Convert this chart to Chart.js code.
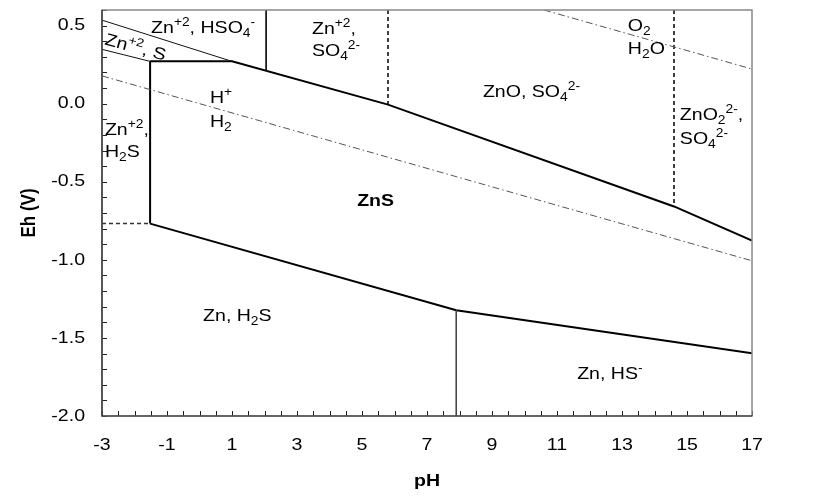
<!DOCTYPE html>
<html>
<head>
<meta charset="utf-8">
<script src="https://cdn.jsdelivr.net/npm/chart.js@4.4.1/dist/chart.umd.min.js"></script>
<style>
  html, body { margin: 0; padding: 0; background: #fff; }
  #wrap { width: 815px; height: 500px; }
</style>
</head>
<body>
<div id="wrap"><canvas id="pourbaix"></canvas></div>
<script>
// Zn-S-H2O Eh-pH diagram

// axis ticks
const phTicks = [-3, -1, 1, 3, 5, 7, 9, 11, 13, 15, 17];
const ehTicks = [-2.0, -1.5, -1.0, -0.5, 0.0, 0.5];

// ZnS stability field boundaries (thick)
const znsTopPH = [-1.52, 1.0, 5.8, 14.6, 17];
const znsTopEh = [0.271, 0.271, -0.006, -0.658, -0.877];
const znsBottomPH = [-1.52, 7.9, 17];
const znsBottomEh = [-0.768, -1.323, -1.598];
const znsLeftPH = [-1.52, -1.52];
const znsLeftEh = [0.271, -0.768];

// thin boundaries
const sulfurTopPH = [-3, 1.0];
const sulfurTopEh = [0.535, 0.271];
const sulfurBottomPH = [-3, -1.52];
const sulfurBottomEh = [0.348, 0.271];
const hso4PH = [2.05, 2.05];
const hso4Eh = [0.6, 0.213];
const hsPH = [7.9, 7.9];
const hsEh = [-1.323, -2.0];

// dashed boundaries
const znoPH = [5.8, 5.8];
const znoEh = [0.6, -0.006];
const zno2PH = [14.6, 14.6];
const zno2Eh = [0.6, -0.658];
const h2sPH = [-3, -1.52];
const h2sEh = [-0.768, -0.768];

// water stability lines
const waterLowPH = [-3, 17];
const waterLowEh = [0.178, -1.006];
const waterHighPH = [10.6, 17];
const waterHighEh = [0.6, 0.222];

// region labels: ^{} superscript, _{} subscript
const regionLabels = [
  { text: 'Zn^{+2}, HSO_{4}^{-}', ph: -1.49, eh: 0.452 },
  { text: 'Zn^{+2}, S', ph: -2.94, eh: 0.38, rot: 15 },
  { text: 'Zn^{+2},', ph: 3.46, eh: 0.449 },
  { text: 'SO_{4}^{2-}', ph: 3.46, eh: 0.303 },
  { text: 'O_{2}', ph: 13.18, eh: 0.464 },
  { text: 'H_{2}O', ph: 13.18, eh: 0.316 },
  { text: 'H^{+}', ph: 0.32, eh: 0.006 },
  { text: 'H_{2}', ph: 0.32, eh: -0.148 },
  { text: 'ZnO, SO_{4}^{2-}', ph: 8.72, eh: 0.045 },
  { text: 'Zn^{+2},', ph: -2.91, eh: -0.2 },
  { text: 'H_{2}S', ph: -2.91, eh: -0.342 },
  { text: 'ZnO_{2}^{2-},', ph: 14.78, eh: -0.103 },
  { text: 'SO_{4}^{2-}', ph: 14.78, eh: -0.258 },
  { text: 'ZnS', ph: 4.85, eh: -0.652, bold: true },
  { text: 'Zn, H_{2}S', ph: 0.11, eh: -1.394 },
  { text: 'Zn, HS^{-}', ph: 11.62, eh: -1.761 }
];

const FONT = '"Liberation Sans", Arial, sans-serif';
const SX = 1.15;   // the original text is a bit wider than plain Arial

function pts(xs, ys) {
  return xs.map((x, i) => ({ x: x, y: ys[i] }));
}

function seg(label, xs, ys, width, color, dash) {
  return {
    label: label,
    data: pts(xs, ys),
    showLine: true,
    pointRadius: 0,
    borderColor: color,
    borderWidth: width,
    borderDash: dash || [],
    fill: false
  };
}

// draws text with ^{..} / _{..} parts, left/baseline at 0,0 of current transform
function drawRich(ctx, str, bold) {
  const parts = str.split(/(\^\{[^}]*\}|_\{[^}]*\})/).filter(p => p.length);
  const w = bold ? 'bold ' : '';
  let cx = 0;
  parts.forEach(p => {
    let txt = p, dy = 0, size = 17;
    if (p.startsWith('^{')) { txt = p.slice(2, -1); dy = -7; size = 12; }
    else if (p.startsWith('_{')) { txt = p.slice(2, -1); dy = 4; size = 12; }
    ctx.font = w + size + 'px ' + FONT;
    ctx.fillText(txt, cx, dy);
    cx += ctx.measureText(txt).width;
  });
}

function plainText(ctx, str, x, y, align, bold, rot) {
  ctx.save();
  ctx.translate(x, y);
  if (rot) ctx.rotate(rot);
  ctx.scale(SX, 1);
  ctx.font = (bold ? 'bold ' : '') + '17px ' + FONT;
  ctx.textAlign = align;
  ctx.textBaseline = 'middle';
  ctx.fillText(str, 0, 0);
  ctx.restore();
}

// frame, inward ticks, tick labels, titles, region labels
const diagramPlugin = {
  id: 'diagram',
  afterDatasetsDraw(chart) {
    const ctx = chart.ctx;
    const xs = chart.scales.x, ys = chart.scales.y;
    const a = chart.chartArea;
    ctx.save();

    // minor + major ticks, pointing inward
    ctx.strokeStyle = '#222';
    ctx.lineWidth = 1;
    ctx.beginPath();
    for (let i = 0; i <= 40; i++) {
      const px = Math.round(xs.getPixelForValue(-3 + i * 0.5)) + 0.5;
      ctx.moveTo(px, a.bottom);
      ctx.lineTo(px, a.bottom - 5);
    }
    for (let i = 0; i <= 26; i++) {
      const py = Math.round(ys.getPixelForValue(-2 + i * 0.1)) + 0.5;
      ctx.moveTo(a.left, py);
      ctx.lineTo(a.left + 5, py);
    }
    ctx.stroke();

    // frame
    ctx.strokeStyle = '#888';
    ctx.lineWidth = 1.5;
    ctx.strokeRect(a.left, a.top, a.right - a.left, a.bottom - a.top);
    ctx.strokeStyle = '#222';
    ctx.lineWidth = 1.2;
    ctx.beginPath();
    ctx.moveTo(a.left, a.top);
    ctx.lineTo(a.left, a.bottom);
    ctx.lineTo(a.right, a.bottom);
    ctx.stroke();

    ctx.fillStyle = '#000';

    // tick labels
    phTicks.forEach(v => plainText(ctx, String(v), xs.getPixelForValue(v), a.bottom + 29, 'center'));
    ehTicks.forEach(v => plainText(ctx, v.toFixed(1), a.left - 17, ys.getPixelForValue(v), 'right'));

    // axis titles
    plainText(ctx, 'pH', (a.left + a.right) / 2, 481, 'center', true);
    ctx.save();
    ctx.translate(30, (a.top + a.bottom) / 2);
    ctx.rotate(-Math.PI / 2);
    ctx.scale(1, SX);
    ctx.font = 'bold 17px ' + FONT;
    ctx.textAlign = 'center';
    ctx.textBaseline = 'middle';
    ctx.fillText('Eh (V)', 0, 0);
    ctx.restore();

    // region labels
    ctx.textBaseline = 'alphabetic';
    ctx.textAlign = 'left';
    regionLabels.forEach(l => {
      ctx.save();
      ctx.translate(xs.getPixelForValue(l.ph), ys.getPixelForValue(l.eh));
      if (l.rot) ctx.rotate(l.rot * Math.PI / 180);
      ctx.scale(SX, 1);
      drawRich(ctx, l.text, l.bold);
      ctx.restore();
    });
    ctx.restore();
  }
};

const ctx = document.getElementById('pourbaix').getContext('2d');

new Chart(ctx, {
  type: 'scatter',
  data: {
    datasets: [
      seg('H+/H2', waterLowPH, waterLowEh, 1, '#555', [7, 3, 1.5, 3]),
      seg('O2/H2O', waterHighPH, waterHighEh, 1, '#555', [7, 3, 1.5, 3]),
      seg('S top', sulfurTopPH, sulfurTopEh, 1, '#111'),
      seg('S bottom', sulfurBottomPH, sulfurBottomEh, 1, '#111'),
      seg('HSO4', hso4PH, hso4Eh, 1, '#111'),
      seg('HS', hsPH, hsEh, 1, '#444'),
      seg('ZnO', znoPH, znoEh, 1.5, '#000', [4, 3]),
      seg('ZnO2', zno2PH, zno2Eh, 1.5, '#000', [4, 3]),
      seg('H2S', h2sPH, h2sEh, 1.5, '#333', [4, 3]),
      seg('ZnS top', znsTopPH, znsTopEh, 2, '#000'),
      seg('ZnS bottom', znsBottomPH, znsBottomEh, 2, '#000'),
      seg('ZnS left', znsLeftPH, znsLeftEh, 2, '#000')
    ]
  },
  options: {
    responsive: true,
    maintainAspectRatio: false,
    animation: false,
    layout: { padding: { top: 10, right: 63, left: 0, bottom: 0 } },
    plugins: {
      legend: { display: false },
      tooltip: { enabled: false }
    },
    scales: {
      x: {
        type: 'linear',
        min: -3,
        max: 17,
        grid: { display: false, drawTicks: false },
        border: { display: false },
        ticks: { display: false },
        afterFit: s => { s.height = 84; }
      },
      y: {
        type: 'linear',
        min: -2.0,
        max: 0.6,
        grid: { display: false, drawTicks: false },
        border: { display: false },
        ticks: { display: false },
        afterFit: s => { s.width = 102; }
      }
    }
  },
  plugins: [diagramPlugin]
});
</script>
</body>
</html>
